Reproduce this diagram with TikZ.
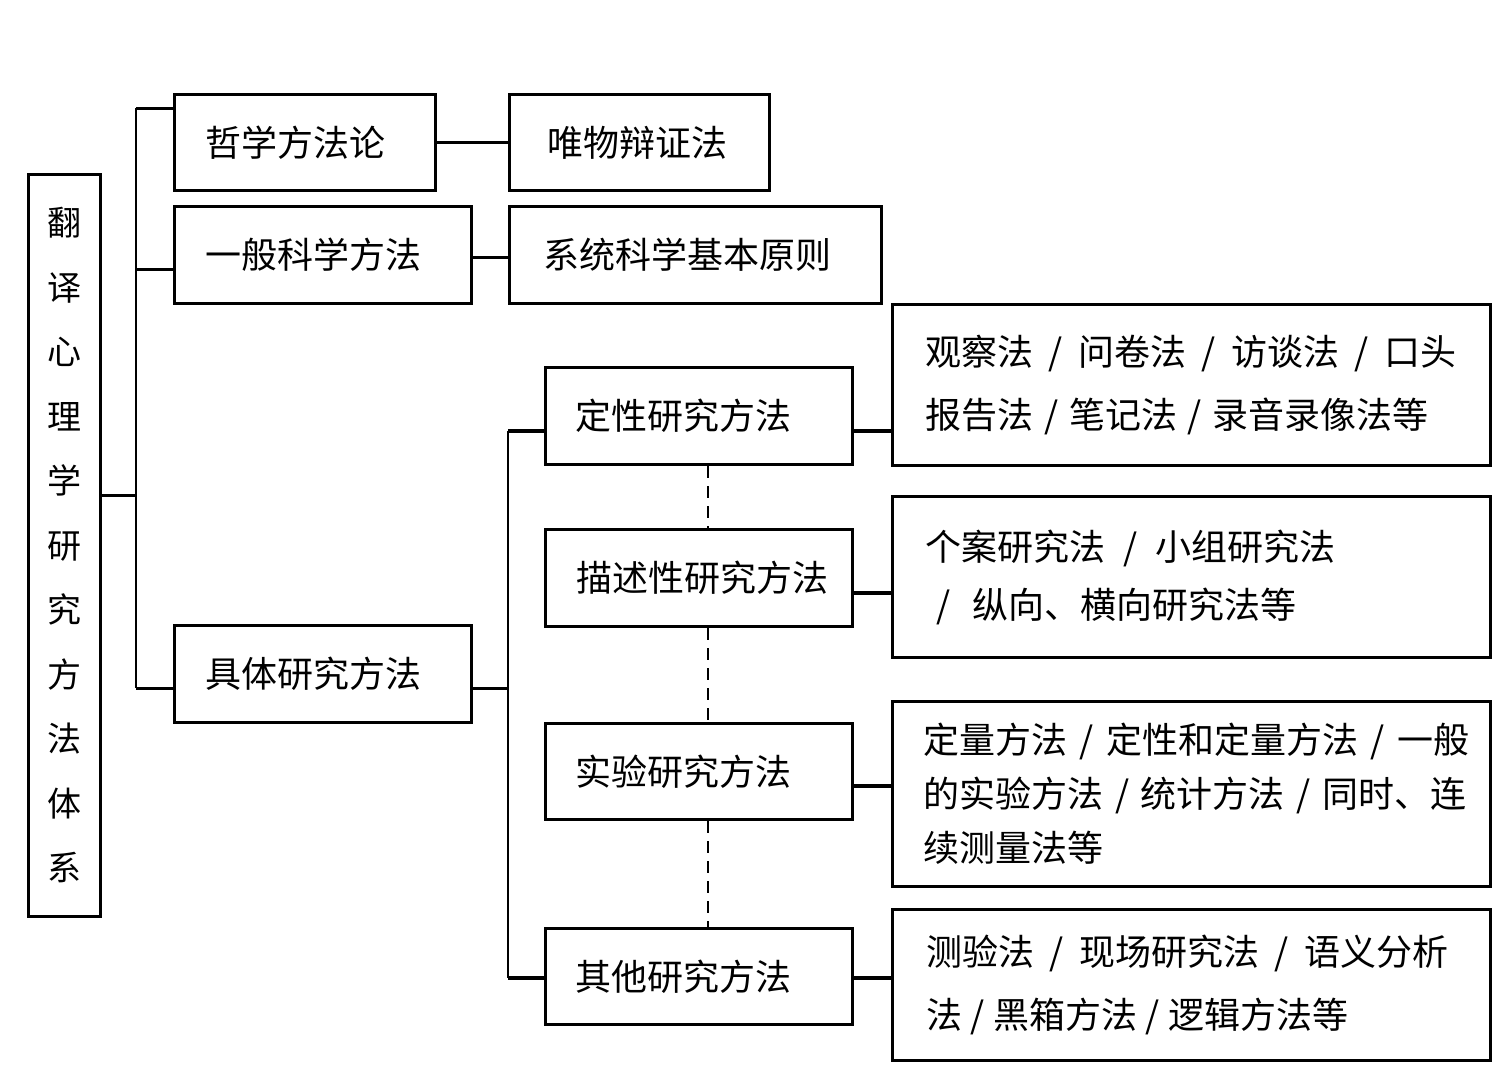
\documentclass[tikz,border=0pt]{standalone}
\usepackage{fontspec}
\newfontfamily\cjk{Noto Sans CJK SC}
\newcommand{\sline}[2]{\makebox[#1pt][l]{#2}}
\newcommand{\sep}{\hfill/\hfill}
\begin{document}
\begin{tikzpicture}[x=1pt,y=-1pt,
  box/.style={draw, line width=3pt, rectangle, inner sep=0pt, align=left,
    anchor=north west, font=\cjk\fontsize{36}{43}\selectfont},
  conn/.style={line width=3pt},
  heavy/.style={line width=4.5pt},
  trunk/.style={line width=2.5pt},
  dashline/.style={line width=2pt, dash pattern=on 12pt off 8pt}]
\useasboundingbox (0,0) rectangle (1499,1071);
% root
\node[box, align=center, minimum width=72pt, minimum height=742pt, text width=72pt,
  font=\cjk\fontsize{34}{64.5}\selectfont] (root) at (27,173)
  {翻\\译\\心\\理\\学\\研\\究\\方\\法\\体\\系};
% level 1
\node[box, minimum width=261pt, minimum height=96pt, inner xsep=31pt, text width=199pt] (b1) at (173,93) {哲学方法论};
\node[box, minimum width=297pt, minimum height=97pt, inner xsep=31pt, text width=235pt] (b2) at (173,205) {一般科学方法};
\node[box, minimum width=297pt, minimum height=97pt, inner xsep=31pt, text width=235pt] (b3) at (173,624) {具体研究方法};
% level 2 top
\node[box, minimum width=260pt, minimum height=96pt, inner xsep=38pt, text width=184pt] (c1) at (508,93) {唯物辩证法};
\node[box, minimum width=372pt, minimum height=97pt, inner xsep=34pt, text width=304pt] (c2) at (508,205) {系统科学基本原则};
% middle
\node[box, minimum width=307pt, minimum height=97pt, inner xsep=30pt, text width=247pt] (m1) at (544,366) {定性研究方法};
\node[box, minimum width=307pt, minimum height=97pt, inner xsep=31pt, text width=245pt] (m2) at (544,528) {描述性研究方法};
\node[box, minimum width=307pt, minimum height=96pt, inner xsep=30pt, text width=247pt] (m3) at (544,722) {实验研究方法};
\node[box, minimum width=307pt, minimum height=96pt, inner xsep=30pt, text width=247pt] (m4) at (544,927) {其他研究方法};
% right
\node[box, minimum width=598pt, minimum height=161pt, inner xsep=33pt, text width=532pt,
  font=\cjk\fontsize{36}{63}\selectfont] (r1) at (891,303)
  {\sline{531}{观察法\sep 问卷法\sep 访谈法\sep 口头}\\\sline{503}{报告法\sep 笔记法\sep 录音录像法等}};
\node[box, minimum width=598pt, minimum height=161pt, inner xsep=33pt, text width=532pt,
  font=\cjk\fontsize{36}{58}\selectfont] (r2) at (891,495)
  {\sline{410}{个案研究法\sep 小组研究法}\\\hspace*{11pt}\sline{360}{/\hfill 纵向、横向研究法等}};
\node[box, minimum width=598pt, minimum height=185pt, inner xsep=31pt, text width=536pt,
  font=\cjk\fontsize{36}{54}\selectfont] (r3) at (891,700)
  {\sline{546}{定量方法\sep 定性和定量方法\sep 一般}\\\sline{543}{的实验方法\sep 统计方法\sep 同时、连}\\续测量法等};
\node[box, minimum width=598pt, minimum height=151pt, inner xsep=34pt, text width=530pt,
  font=\cjk\fontsize{36}{63}\selectfont] (r4) at (891,908)
  {\sline{522}{测验法\sep 现场研究法\sep 语义分析}\\\sline{422}{法\sep 黑箱方法\sep 逻辑方法等}};
% coordinates
\coordinate (t1a) at (136,108);
\coordinate (t1m) at (136,269);
\coordinate (t1b) at (136,688);
\coordinate (rj) at (136,495);
\coordinate (k1) at (490,257);
\coordinate (t2a) at (508,431);
\coordinate (t2j) at (508,688);
\coordinate (t2b) at (508,978);
\coordinate (k2) at (871,593);
\coordinate (k3) at (871,786);
\coordinate (dx) at (708,0);
% trunk 1
\draw[trunk] (t1a) -- (t1b);
\draw[conn] (root.east |- rj) -- (rj);
\draw[conn] (t1a) -- (b1.west |- t1a);
\draw[conn] (t1m) -- (b2.west |- t1m);
\draw[conn] (t1b) -- (b3.west |- t1b);
\draw[conn] (b1.east) -- (c1.west |- b1.east);
\draw[conn] (b2.east |- k1) -- (c2.west |- k1);
% trunk 2
\draw[conn] (b3.east |- t2j) -- (t2j);
\draw[trunk] (t2a) -- (t2b);
\draw[heavy] (t2a) -- (m1.west |- t2a);
\draw[heavy] (t2b) -- (m4.west |- t2b);
% to right boxes
\draw[heavy] (m1.east |- t2a) -- (r1.west |- t2a);
\draw[heavy] (m2.east |- k2) -- (r2.west |- k2);
\draw[heavy] (m3.east |- k3) -- (r3.west |- k3);
\draw[heavy] (m4.east |- t2b) -- (r4.west |- t2b);
% dashed
\draw[dashline] (m1.south -| dx) -- (m2.north -| dx);
\draw[dashline] (m2.south -| dx) -- (m3.north -| dx);
\draw[dashline] (m3.south -| dx) -- (m4.north -| dx);
\end{tikzpicture}
\end{document}
